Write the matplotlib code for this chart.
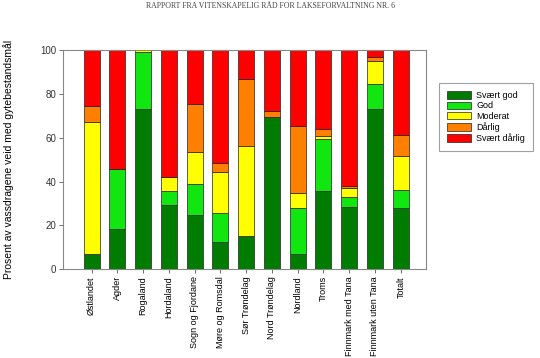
import matplotlib
matplotlib.use("Agg")
import matplotlib.pyplot as plt
import numpy as np

regions = ["Østlandet", "Agder", "Rogaland", "Hordaland", "Sogn og Fjordane",
           "Møre og Romsdal", "Sør Trøndelag", "Nord Trøndelag", "Nordland",
           "Troms", "Finnmark med Tana", "Finnmark uten Tana", "Totalt"]
svaert_god   = [6.8, 18.6, 73.0, 29.2, 24.8, 12.5, 15.2, 69.3, 7.0, 35.9, 28.6, 73.0, 28.0]
god          = [0.0, 27.2, 26.0, 6.4, 14.0, 13.4, 0.0, 0.0, 21.0, 23.5, 4.4, 11.6, 8.2]
moderat      = [60.2, 0.0, 1.0, 6.6, 14.8, 18.3, 41.1, 0.0, 6.7, 1.2, 4.1, 10.2, 15.5]
darlig       = [7.3, 0.0, 0.0, 0.0, 21.6, 4.3, 30.3, 3.0, 30.5, 3.4, 0.9, 1.9, 9.6]
svaert_darlig = [25.7, 54.2, 0.0, 57.8, 24.8, 51.5, 13.4, 27.7, 34.8, 36.0, 62.0, 3.3, 38.7]

series = [("Svært god", svaert_god, "#007c00"),
          ("God", god, "#11e611"),
          ("Moderat", moderat, "#ffff00"),
          ("Dårlig", darlig, "#ff8000"),
          ("Svært dårlig", svaert_darlig, "#ff0000")]

fig = plt.figure(figsize=(5.4, 3.58), dpi=100)
ax = fig.add_axes([63.3/540, 1-269.3/358, (426-63.3)/540, (269.3-50)/358])

x = np.arange(len(regions))
bottom = np.zeros(len(regions))
for name, vals, col in series:
    v = np.array(vals)
    ax.bar(x, v, width=0.62, bottom=bottom, color=col, edgecolor="#222222",
           linewidth=0.5, label=name)
    bottom += v

ax.set_xlim(-1.1, 12.98)
ax.set_ylim(0, 100)
ax.set_yticks([0, 20, 40, 60, 80, 100])
ax.set_xticks(x)
ax.set_xticklabels(regions, rotation=90, fontsize=6.5, family="Liberation Sans")
for lab in ax.get_yticklabels():
    lab.set_fontsize(7)
    lab.set_family("Liberation Sans")
    lab.set_color("#333333")
for s in ax.spines.values():
    s.set_color("#888888")
    s.set_linewidth(0.8)
ax.tick_params(axis="both", length=3, width=0.6, color="#555555", pad=2)

ax.set_ylabel("Prosent av vassdragene veid med gytebestandsmål", fontsize=7.5,
              family="Liberation Sans", labelpad=19)

leg = fig.legend(loc="upper left", bbox_to_anchor=(439/540, 1-83/358),
                 borderaxespad=0,
                 frameon=True, fancybox=False, edgecolor="#888888",
                 handlelength=2.6, handleheight=0.9, labelspacing=0.15,
                 borderpad=0.9, handletextpad=0.6,
                 prop={"family": "Liberation Sans", "size": 6.5})
leg.get_frame().set_linewidth(0.8)

fig.text(0.5, 1-6/358, "RAPPORT FRA VITENSKAPELIG RÅD FOR LAKSEFORVALTNING NR. 6",
         ha="center", va="center", fontsize=5.6, family="Liberation Serif", color="#444444")

fig.savefig("out.png", dpi=100)
